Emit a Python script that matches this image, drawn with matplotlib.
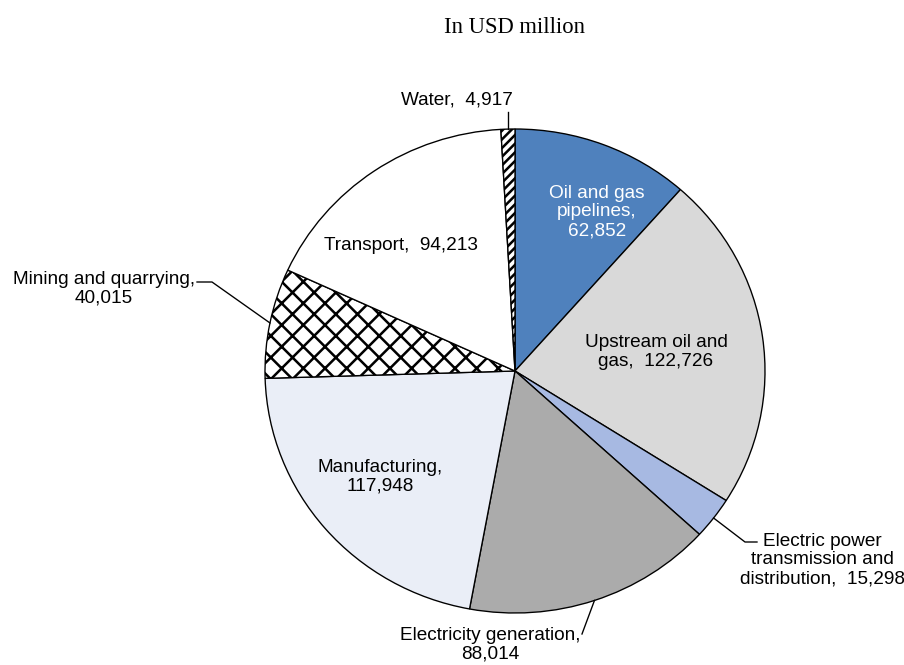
import numpy as np
import matplotlib.pyplot as plt
import matplotlib

matplotlib.rcParams['font.family'] = ['Liberation Sans', 'DejaVu Sans']
matplotlib.rcParams['hatch.linewidth'] = 1.4

sectors = ['Oil and gas pipelines', 'Upstream oil and gas',
           'Electric power transmission and distribution', 'Electricity generation',
           'Manufacturing', 'Mining and quarrying', 'Transport', 'Water']
values = [62852, 122726, 15298, 88014, 117948, 40015, 94213, 4917]

colors = ['#4f81bd', '#d9d9d9', '#a7b9e2', '#ababab', '#eaeef7', 'white', 'white', 'white']
hatches = [None, None, None, None, None, 'xx', None, '/////']

DPI = 130
fig = plt.figure(figsize=(904 / DPI, 665 / DPI), dpi=DPI, facecolor='white')
ax = fig.add_axes([0, 0, 1, 1])

# pixel layout of the pie: centre and radii
cx, cy, rx, ry = 515, 371, 250, 242


def px(x, y):
    return (x - cx) / rx, (cy - y) / ry


wedges, _ = ax.pie(values, colors=colors, startangle=90, counterclock=False,
                   wedgeprops=dict(edgecolor='black', linewidth=0.75))
for w, h in zip(wedges, hatches):
    if h:
        w.set_hatch(h)

ax.set_aspect('auto')
ax.set_xlim(-cx / rx, (904 - cx) / rx)
ax.set_ylim(-(665 - cy) / ry, cy / ry)
ax.axis('off')


def mid(i):
    w = wedges[i]
    a = np.deg2rad((w.theta1 + w.theta2) / 2)
    return np.cos(a), np.sin(a)


fs = 10.5
ls = 1.15
# labels inside the pie
ax.text(*px(597, 212), 'Oil and gas\npipelines,\n62,852', color='white', fontsize=fs,
        ha='center', va='center', linespacing=ls)
ax.text(*px(656, 352), 'Upstream oil and\ngas,  122,726', fontsize=fs,
        ha='center', va='center', linespacing=ls)
ax.text(*px(380, 477), 'Manufacturing,\n117,948', fontsize=fs,
        ha='center', va='center', linespacing=ls)
ax.text(*px(401, 246), 'Transport,  94,213', fontsize=fs, ha='center', va='center')

# labels outside with leader lines
ax.text(*px(457, 100), 'Water,  4,917', fontsize=fs, ha='center', va='center')
x0, y0 = mid(7)
ax.plot([x0, x0], [y0, px(0, 112)[1]], color='black', lw=0.75)

ax.text(*px(822, 560), 'Electric power\ntransmission and\ndistribution,  15,298', fontsize=fs,
        ha='center', va='center', linespacing=ls)
x0, y0 = mid(2)
lx, ly = zip((x0, y0), px(745, 542), px(757, 542))
ax.plot(lx, ly, color='black', lw=0.75)

ax.text(*px(490, 645), 'Electricity generation,\n88,014', fontsize=fs,
        ha='center', va='center', linespacing=ls)
x0, y0 = mid(3)
lx, ly = zip((x0, y0), px(582, 634))
ax.plot(lx, ly, color='black', lw=0.75)

ax.text(*px(104, 289), 'Mining and quarrying,\n40,015', fontsize=fs,
        ha='center', va='center', linespacing=ls)
x0, y0 = mid(5)
lx, ly = zip((x0, y0), px(212, 282), px(197, 282))
ax.plot(lx, ly, color='black', lw=0.75)

ax.text(*px(515, 28), 'In USD million', fontsize=12.5, family='Liberation Serif',
        ha='center', va='center')

fig.savefig('out.png', dpi=DPI, facecolor='white')
